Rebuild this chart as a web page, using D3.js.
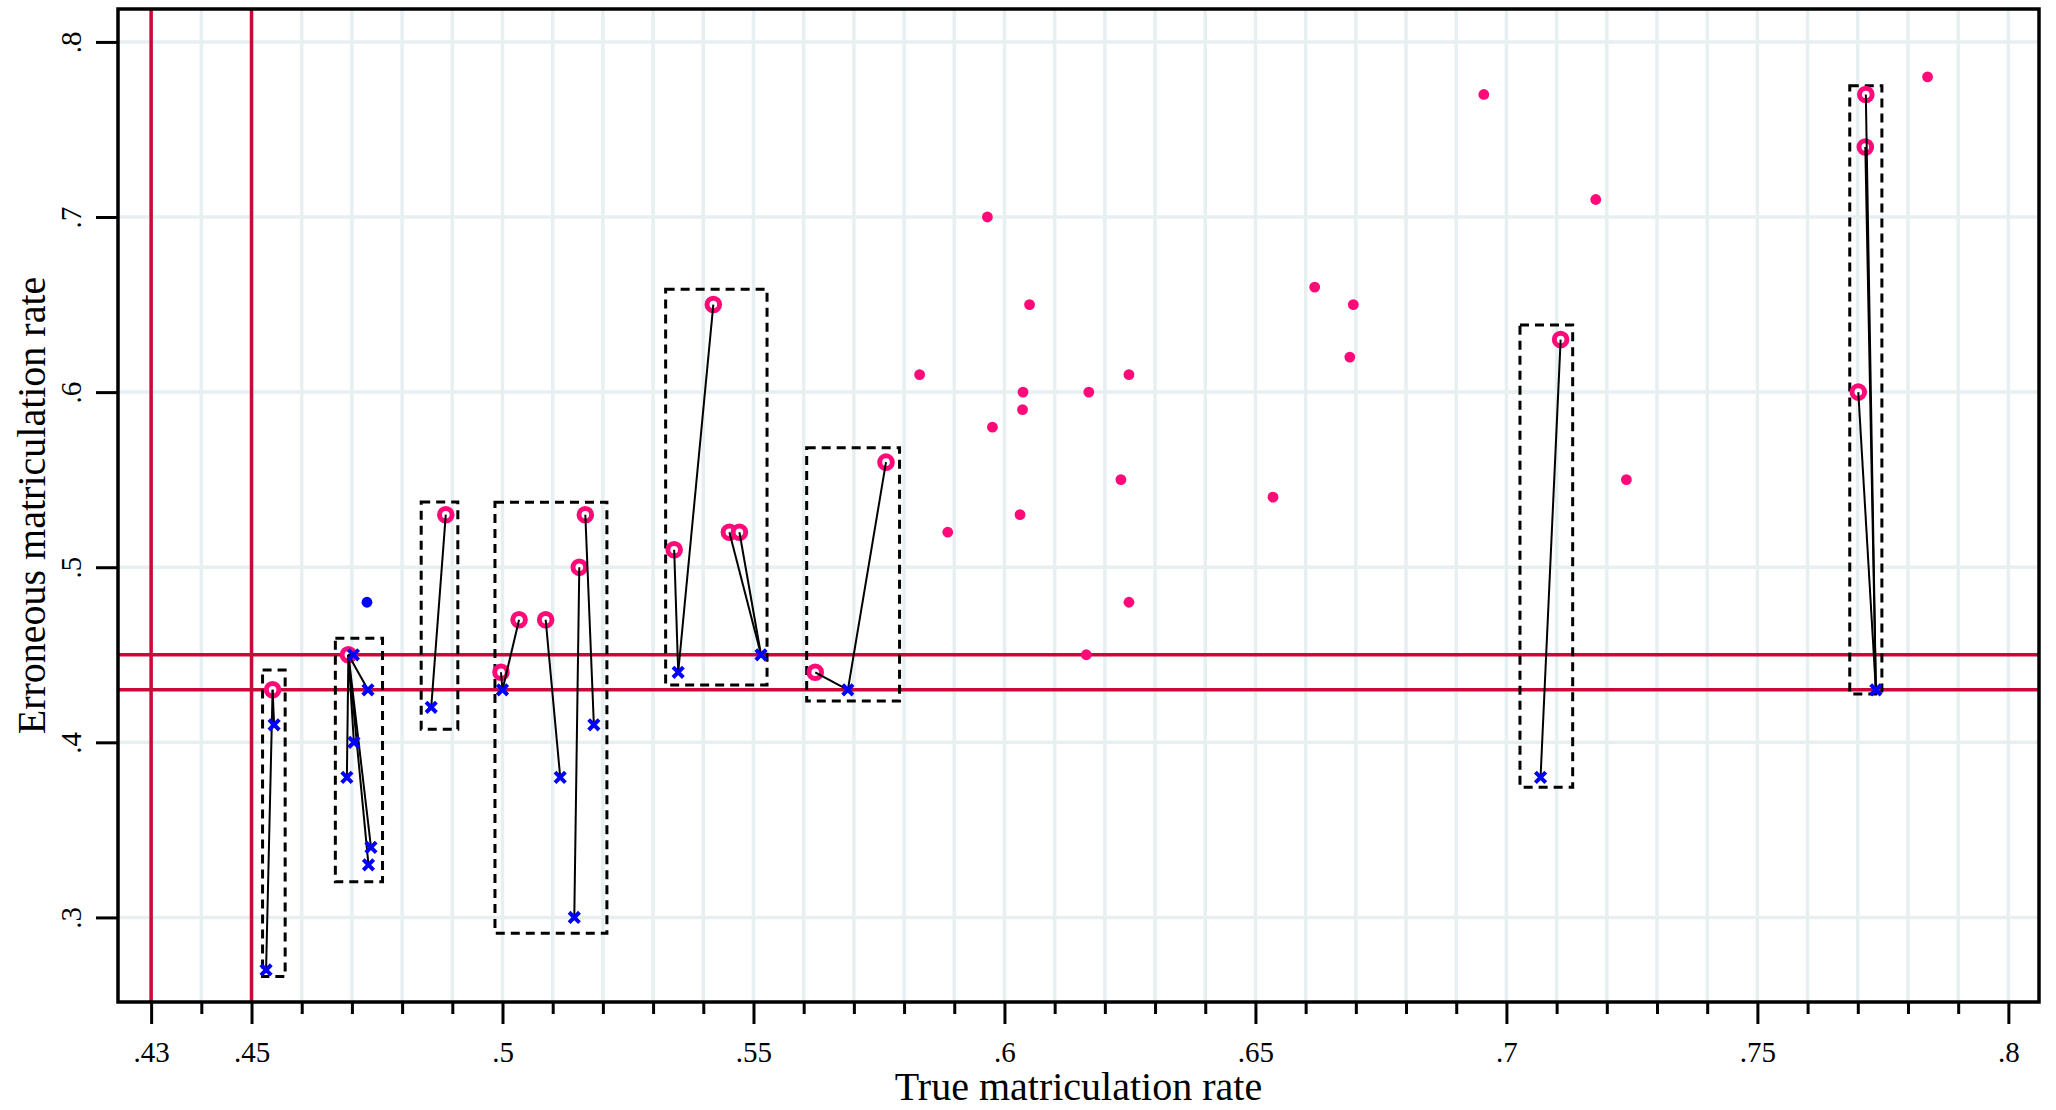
<!DOCTYPE html>
<html><head><meta charset="utf-8">
<script src="https://cdn.jsdelivr.net/npm/d3@7"></script>
<style>html,body{margin:0;padding:0;background:#fff;} svg{display:block;}</style>
</head><body><svg id="chart" width="2056" height="1110"></svg>
<script>
// ---------------- data ----------------
// plain (solid pink) points
const dotX = [0.5831,0.5887,0.5966,0.5976,0.6031,0.6036,0.6037,0.6050,0.6163,0.6168,0.6232,0.6248,0.6248,0.6535,0.6618,0.6688,0.6695,0.6955,0.7178,0.7239,0.7839];
const dotY = [0.61,0.52,0.70,0.58,0.53,0.59,0.60,0.65,0.45,0.60,0.55,0.61,0.48,0.54,0.66,0.62,0.65,0.77,0.71,0.55,0.78];
// erroneous points (pink rings)
const ringX = [0.4542,0.4693,0.4887,0.4997,0.5033,0.5086,0.5153,0.5165,0.5342,0.5420,0.5452,0.5472,0.5623,0.5764,0.7108,0.7716,0.7715,0.7701];
const ringY = [0.43,0.45,0.53,0.44,0.47,0.47,0.50,0.53,0.51,0.65,0.52,0.52,0.44,0.56,0.63,0.77,0.74,0.60];
// true points (blue crosses)
const crossX = [0.4545,0.4529,0.4703,0.4732,0.4704,0.4690,0.4738,0.4733,0.4858,0.5000,0.5115,0.5143,0.5182,0.5350,0.5515,0.5688,0.7068,0.7736];
const crossY = [0.41,0.27,0.45,0.43,0.40,0.38,0.34,0.33,0.42,0.43,0.38,0.30,0.41,0.44,0.45,0.43,0.38,0.43];
// links ring -> cross
const linkRing  = [0,0,1,1,1,1,1,1,2,3,4,5,6,7,8,9,10,11,12,13,14,15,16,17];
const linkCross = [0,1,2,3,4,5,6,7,8,9,9,10,11,12,13,13,14,14,15,15,16,17,17,17];
// single blue solid point
const blueX = [0.473];
const blueY = [0.48];
// dashed cluster boxes
const boxX0 = [0.4522,0.4667,0.4838,0.4985,0.5325,0.5606,0.7027,0.7684];
const boxX1 = [0.4567,0.4761,0.4911,0.5208,0.5527,0.5791,0.7132,0.7748];
const boxY0 = [0.2662,0.3204,0.4075,0.2910,0.4328,0.4236,0.3744,0.4276];
const boxY1 = [0.4413,0.4595,0.5373,0.5371,0.6588,0.5683,0.6384,0.7750];
// reference lines
const refX = [0.43,0.45];
const refY = [0.43,0.45];
// ticks
const xMajor = [0.43,0.45,0.5,0.55,0.6,0.65,0.7,0.75,0.8];
const xMajorLabels = [".43",".45",".5",".55",".6",".65",".7",".75",".8"];
const xMinor = d3.range(44,80).map(d=>d/100).filter(v=>!xMajor.some(m=>Math.abs(m-v)<1e-9));
const xGrid = d3.range(43,81).map(d=>d/100);
const yMajor = [0.3,0.4,0.5,0.6,0.7,0.8];
const yMajorLabels = [".3",".4",".5",".6",".7",".8"];

const xTitle = "True matriculation rate";
const yTitle = "Erroneous matriculation rate";

// ---------------- drawing ----------------
const L=118,R=2039,T=9,B=1002;
const x = d3.scaleLinear().domain([0.4234,0.8061]).range([L,R]);
const y = d3.scaleLinear().domain([0.2517,0.8188]).range([B,T]);

const PINK="#ff0a78", RED="#c70a3a", BLUE="#0000ff", GRID="#e7eff1";
const svg = d3.select("#chart");
svg.append("rect").attr("width",2056).attr("height",1110).attr("fill","#fff");

// grid
const g = svg.append("g");
g.selectAll("line.gx").data(xGrid).join("line")
  .attr("x1",d=>x(d)).attr("x2",d=>x(d)).attr("y1",T).attr("y2",B)
  .attr("stroke",GRID).attr("stroke-width",3.5);
g.selectAll("line.gy").data(yMajor).join("line").attr("class","gy")
  .attr("x1",L).attr("x2",R).attr("y1",d=>y(d)).attr("y2",d=>y(d))
  .attr("stroke",GRID).attr("stroke-width",3.5);

// reference lines
svg.append("g").selectAll("line").data(refX).join("line")
  .attr("x1",d=>x(d)).attr("x2",d=>x(d)).attr("y1",T).attr("y2",B)
  .attr("stroke",RED).attr("stroke-width",3.5);
svg.append("g").selectAll("line").data(refY).join("line")
  .attr("x1",L).attr("x2",R).attr("y1",d=>y(d)).attr("y2",d=>y(d))
  .attr("stroke",RED).attr("stroke-width",3.5);

// boxes
svg.append("g").selectAll("rect").data(boxX0.map((d,i)=>i)).join("rect")
  .attr("x",i=>x(boxX0[i])).attr("y",i=>y(boxY1[i]))
  .attr("width",i=>x(boxX1[i])-x(boxX0[i])).attr("height",i=>y(boxY0[i])-y(boxY1[i]))
  .attr("fill","none").attr("stroke","#000").attr("stroke-width",3).attr("stroke-dasharray","9,6");

// rings
svg.append("g").selectAll("circle").data(ringX.map((d,i)=>i)).join("circle")
  .attr("cx",i=>x(ringX[i])).attr("cy",i=>y(ringY[i])).attr("r",6.3)
  .attr("fill","#fff").attr("stroke",PINK).attr("stroke-width",5);

// links
svg.append("g").selectAll("line").data(linkRing.map((d,i)=>i)).join("line")
  .attr("x1",i=>x(ringX[linkRing[i]])).attr("y1",i=>y(ringY[linkRing[i]]))
  .attr("x2",i=>x(crossX[linkCross[i]])).attr("y2",i=>y(crossY[linkCross[i]]))
  .attr("stroke","#000").attr("stroke-width",2);

// solid pink dots
svg.append("g").selectAll("circle").data(dotX.map((d,i)=>i)).join("circle")
  .attr("cx",i=>x(dotX[i])).attr("cy",i=>y(dotY[i])).attr("r",5.4).attr("fill",PINK);
// blue dot
svg.append("g").selectAll("circle").data(blueX.map((d,i)=>i)).join("circle")
  .attr("cx",i=>x(blueX[i])).attr("cy",i=>y(blueY[i])).attr("r",5.4).attr("fill",BLUE);

// crosses
const s=5.2;
svg.append("g").selectAll("path").data(crossX.map((d,i)=>i)).join("path")
  .attr("transform",i=>`translate(${x(crossX[i])},${y(crossY[i])})`)
  .attr("d",`M${-s},${-s}L${s},${s}M${-s},${s}L${s},${-s}`)
  .attr("stroke",BLUE).attr("stroke-width",4).attr("fill","none");

// axes
const font = "'Liberation Serif','Times New Roman',serif";
const ax = svg.append("g").attr("transform",`translate(0,${B})`)
  .call(d3.axisBottom(x).tickValues(xMajor).tickFormat((d,i)=>xMajorLabels[i]).tickSize(22));
ax.attr("font-family",null);
ax.select(".domain").remove();
ax.selectAll(".tick line").attr("stroke","#000").attr("stroke-width",3);
ax.selectAll(".tick text").attr("y",60).attr("dy",0).attr("fill","#000")
  .style("font-family",font).style("font-size","29px");
const axm = svg.append("g").attr("transform",`translate(0,${B})`)
  .call(d3.axisBottom(x).tickValues(xMinor).tickFormat("").tickSize(12));
axm.select(".domain").remove();
axm.selectAll(".tick line").attr("stroke","#000").attr("stroke-width",3);

const ay = svg.append("g").attr("transform",`translate(${L},0)`)
  .call(d3.axisLeft(y).tickValues(yMajor).tickFormat((d,i)=>yMajorLabels[i]).tickSize(22));
ay.attr("font-family",null);
ay.select(".domain").remove();
ay.selectAll(".tick line").attr("stroke","#000").attr("stroke-width",3);
ay.selectAll(".tick text").attr("x",0).attr("y",0).attr("dy",0)
  .attr("transform","translate(-37,0) rotate(-90)").attr("text-anchor","middle").attr("fill","#000")
  .style("font-family",font).style("font-size","29px");

// frame
svg.append("rect").attr("x",L).attr("y",T).attr("width",R-L).attr("height",B-T)
  .attr("fill","none").attr("stroke","#000").attr("stroke-width",3.5);

// titles
svg.append("text").attr("x",(L+R)/2).attr("y",1100).attr("text-anchor","middle")
  .style("font-family",font).style("font-size","40px").attr("fill","#000").text(xTitle);
svg.append("text").attr("transform",`translate(45,${(T+B)/2}) rotate(-90)`).attr("text-anchor","middle")
  .style("font-family",font).style("font-size","40px").attr("fill","#000").text(yTitle);
</script></body></html>
